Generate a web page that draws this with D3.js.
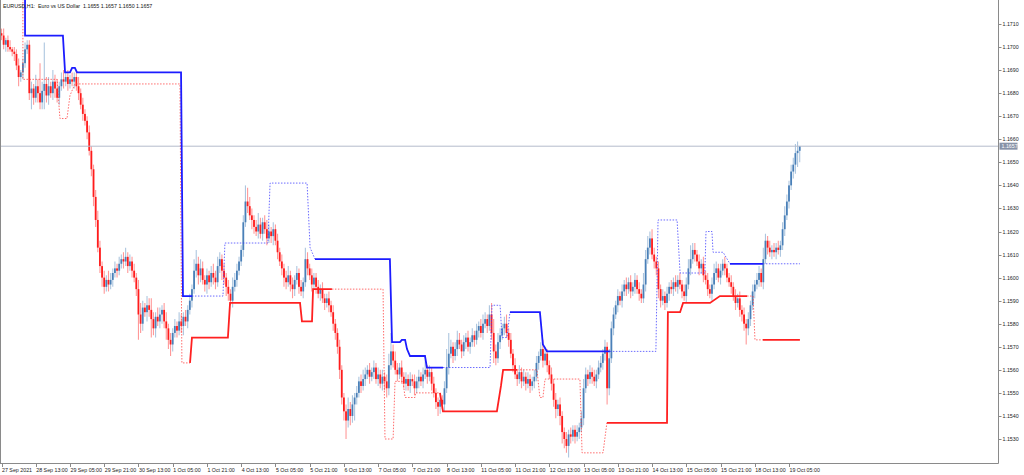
<!DOCTYPE html>
<html>
<head>
<meta charset="utf-8">
<script src="https://cdn.jsdelivr.net/npm/d3@7.9.0/dist/d3.min.js"></script>
<style>
  html, body { margin: 0; padding: 0; background: #fff; }
  svg { display: block; font-family: "Liberation Sans", Arial, sans-serif; }
</style>
</head>
<body>
<svg id="chart" width="1024" height="475"></svg>
<script>
// EURUSD H1 closes, in pips above 1.1500 (bar 0 = 27 Sep 21:00)
const firstOpen = 206;
const closes = [
  205,201,203,200,199,198,197,192,187,189,193,199,201,180,
  182,178,183,180,176,181,184,179,183,180,185,182,178,183,186,185,187,184,186,185,187,183,
  180,175,171,168,163,155,147,135,125,113,105,100,96,99,97,99,102,104,103,106,
  108,107,109,105,107,103,100,95,84,80,87,85,88,86,82,78,83,81,84,86,81,78,73,71,
  76,79,77,81,79,83,81,86,90,95,103,106,101,104,99,97,101,98,102,100,
  98,105,108,103,100,96,93,90,96,99,103,107,112,124,133,131,127,125,122,120,
  123,119,124,121,117,120,118,121,116,111,107,104,100,98,101,97,95,99,102,96,
  94,98,108,104,101,97,100,96,93,95,91,89,91,88,85,80,76,70,60,48,
  42,38,43,40,45,48,50,55,53,56,58,60,57,59,61,56,58,54,57,55,
  52,62,68,64,60,58,61,57,54,56,53,56,55,52,55,57,55,58,60,57,
  59,54,50,46,44,47,45,52,61,67,70,66,69,73,71,68,72,74,70,72,
  75,73,77,79,76,80,82,79,84,76,68,65,72,75,78,80,76,73,67,62,
  58,56,59,55,57,54,56,53,55,57,63,66,69,64,67,62,58,54,47,43,
  45,40,33,30,27,32,31,34,31,33,35,39,52,58,56,59,57,55,58,61,
  63,67,70,52,65,78,84,88,92,90,94,97,95,98,94,96,99,95,93,91,
  97,108,113,117,110,107,104,95,90,92,89,93,96,95,98,96,99,97,94,92,
  97,104,108,112,110,107,104,106,101,99,95,93,97,102,104,100,103,106,104,100,
  98,96,92,89,91,86,84,80,78,82,88,94,97,99,102,98,108,116,113,111,
  112,111,113,112,114,121,127,133,140,146,149,154,155,157
];
// upper / lower shadows in pips beyond the body
const wickUp = [
  2,3,1,2,3,1,2,2,3,1, 2,3,2,2,3,2,5,3,13,4,
  18,3,4,2,5,3,4,2,3,4, 2,3,2,3,2,3,4,2,3,2,
  2,3,2,2,3,4,3,2,3,2, 4,3,2,3,2,3,2,3,4,2,
  3,2,3,2,4,5,3,2,4,3, 5,3,2,4,3,2,3,4,2,3,
  2,3,2,4,3,2,3,2,3,2, 5,6,3,4,3,2,3,2,3,4,
  3,4,3,2,3,2,3,2,4,3, 3,2,2,3,7,6,4,3,2,3,
  5,3,2,3,4,3,2,3,2,3, 2,3,2,3,4,2,3,2,3,2,
  3,2,5,3,2,3,2,2,3,2, 3,2,2,3,2,3,2,2,3,2,
  2,3,5,3,4,2,3,2,3,4, 3,2,3,2,3,2,3,2,3,2,
  3,5,8,3,4,3,2,3,2,3, 2,3,2,3,2,3,2,3,4,2,
  3,2,3,2,2,3,2,3,8,9, 3,2,3,4,3,2,3,2,3,2,
  3,2,3,2,3,4,3,2,4,5, 6,3,4,3,2,3,4,2,3,2,
  3,2,3,2,3,2,3,2,2,3, 3,2,3,4,3,2,2,3,2,3,
  2,3,2,2,3,2,3,2,2,3, 2,3,4,3,2,3,2,3,2,3,
  3,2,3,2,4,3,3,2,3,2, 3,2,3,2,3,2,3,2,3,2,
  5,4,5,3,4,3,2,3,2,3, 2,3,2,3,2,3,2,3,2,3,
  3,4,6,3,3,2,3,2,3,2, 3,2,3,4,3,2,3,2,3,2,
  2,3,2,3,2,3,2,3,2,3, 2,3,2,3,3,2,5,3,2,3,
  2,3,2,3,2,3,4,3,2,3, 3,4,4,0
];
const wickDown = [
  2,2,3,2,1,2,3,2,4,2, 3,2,2,3,7,3,2,4,3,3,
  8,3,4,2,3,4,2,3,2,3, 2,3,2,2,3,2,3,2,3,2,
  3,2,3,4,3,2,3,4,3,2, 3,2,3,2,3,2,2,3,2,3,
  2,3,2,3,11,4,3,2,4,3, 8,3,4,2,3,4,3,5,4,5,
  3,2,3,2,3,4,2,3,2,3, 2,3,4,3,2,3,4,3,2,3,
  3,2,3,4,3,4,3,2,3,2, 3,2,2,3,2,3,2,4,3,2,
  3,2,3,2,3,2,3,4,2,3, 2,3,4,3,2,3,4,3,2,3,
  2,3,2,3,2,3,2,3,2,3, 2,3,2,3,2,3,3,3,4,3,
  4,8,3,4,3,7,3,2,3,2, 3,2,3,2,3,2,3,2,3,4,
  4,3,2,3,2,3,2,3,2,3, 2,3,2,3,2,3,2,3,2,3,
  2,3,2,3,4,3,2,3,2,3, 2,3,2,3,2,3,2,3,2,3,
  2,3,2,3,2,3,2,3,2,3, 5,3,2,3,2,3,2,3,2,3,
  2,3,2,3,2,3,2,3,2,3, 2,3,2,3,2,3,2,3,3,4,
  3,4,5,4,3,5,3,2,3,2, 3,2,3,2,3,2,3,2,3,2,
  2,3,3,7,3,2,3,2,3,2, 3,2,3,2,3,2,3,2,3,2,
  2,3,2,3,2,3,3,4,3,2, 3,2,3,2,3,2,3,2,3,2,
  3,2,3,2,3,2,3,2,3,2, 3,2,3,2,3,2,3,2,3,2,
  2,3,2,3,2,3,3,3,7,3, 3,2,3,2,3,2,3,2,3,2,
  3,2,3,2,3,2,3,2,3,2, 3,4,6,5
];

const timeLabels = [
  "27 Sep 2021","28 Sep 13:00","29 Sep 05:00","29 Sep 21:00","30 Sep 13:00","1 Oct 05:00",
  "1 Oct 21:00","4 Oct 13:00","5 Oct 05:00","5 Oct 21:00","6 Oct 13:00","7 Oct 05:00",
  "7 Oct 21:00","8 Oct 13:00","11 Oct 05:00","11 Oct 21:00","12 Oct 13:00","13 Oct 05:00",
  "13 Oct 21:00","14 Oct 13:00","15 Oct 05:00","15 Oct 21:00","18 Oct 13:00","19 Oct 05:00"
];
const barsPerLabel = 16;
const priceLabels = [1.1530,1.1540,1.1550,1.1560,1.1570,1.1580,1.1590,1.1600,1.1610,
  1.1620,1.1630,1.1640,1.1650,1.1660,1.1670,1.1680,1.1690,1.1700,1.1710];
const lastPrice = 1.1657;
const title = "EURUSD,H1:  Euro vs US Dollar  1.1655 1.1657 1.1650 1.1657";

// indicator step lines: [bar, price] vertices
const blueSolid = [
  [[11,1.1730],[11,1.1705],[28.7,1.1705],[29.7,1.1689],[32,1.1689],[33,1.1691],[34.3,1.1691],[35.3,1.1689],[83.9,1.1689],[84.8,1.1592],[89,1.1592]],
  [[146.5,1.1608],[181.5,1.1608],[182.5,1.1572],[186.2,1.1572],[187.1,1.1573],[188.6,1.1573],[189.5,1.1569],[190.9,1.1566],[197.9,1.1566],[198.8,1.1561],[206.3,1.1561]],
  [[237.6,1.1585],[251.6,1.1585],[253,1.1571],[254.9,1.1568],[284.3,1.1568]],
  [[340.4,1.1606],[355.8,1.1606]]
];
const blueDotted = [
  [[89,1.1592],[103.5,1.1592],[104.4,1.1615],[124.5,1.1615],[125.5,1.1641],[142.8,1.1641],[144.2,1.1613],[146.5,1.1608]],
  [[206.3,1.1561],[228.3,1.1561],[229.2,1.1588],[233,1.1588],[233.9,1.1574],[236.2,1.1574],[237.6,1.1585]],
  [[284.3,1.1568],[305.8,1.1568],[306.8,1.1625],[315.7,1.1625],[317.1,1.1602],[328.7,1.1602],[329.2,1.1620],[332,1.1620],[332.5,1.1611],[337.2,1.1611],[340.4,1.1606]],
  [[355.8,1.1606],[373.1,1.1606]]
];
const redSolid = [
  [[88.1,1.1563],[89,1.1574],[105.8,1.1574],[106.8,1.1589],[139.5,1.1589],[140.4,1.1581],[145.1,1.1581],[145.6,1.1595],[154.4,1.1595]],
  [[204.9,1.1550],[206.3,1.1542],[231.5,1.1542],[233.4,1.1553],[234.4,1.1560],[240.9,1.1560]],
  [[282.9,1.1537],[311,1.1537],[311.4,1.1585],[317.1,1.1585],[318.5,1.1589],[331.1,1.1589],[335.7,1.1592],[348.4,1.1592]],
  [[355.8,1.1573],[373.1,1.1573]]
];
const redDotted = [
  [[10,1.1730],[10,1.1686],[26,1.1686],[27.3,1.1669],[30.6,1.1669],[32,1.1679],[34.3,1.1684],[83.4,1.1684],[84.3,1.1563],[88.1,1.1563]],
  [[154.4,1.1595],[178.3,1.1595],[179.2,1.1530],[183,1.1530],[183.9,1.1555],[187.6,1.1555],[188.6,1.1548],[193.2,1.1548],[193.5,1.1550],[204.9,1.1550]],
  [[240.9,1.1560],[250.2,1.1560],[251.6,1.1548],[253,1.1548],[254,1.1556],[270.3,1.1556],[271.3,1.1524],[281.1,1.1524],[282.9,1.1537]],
  [[348.4,1.1592],[351.2,1.1592],[352.1,1.1573],[355.8,1.1573]]
];

const plotRight = 998.5, plotBottom = 463.5;
const svg = d3.select('#chart');
const x = d3.scaleLinear().domain([0, 373]).range([1.5, 799.7]);
const y = d3.scaleLinear().domain([1.1530, 1.1710]).range([439, 24]);
const pip = v => 1.15 + v / 10000;

let bars = closes.map((c, i) => {
  let o = i === 0 ? firstOpen : closes[i - 1];
  return {
    i, o: pip(o), c: pip(c),
    h: pip(Math.max(o, c) + wickUp[i]),
    l: pip(Math.min(o, c) - wickDown[i])
  };
});

svg.append('defs').append('clipPath').attr('id', 'plot')
  .append('rect').attr('x', 0).attr('y', 0).attr('width', plotRight).attr('height', plotBottom);

const plot = svg.append('g').attr('clip-path', 'url(#plot)');

function barColor(d) {
  if (d.c > d.o) return '#4a80b8';
  if (d.c < d.o) return '#ff1c1c';
  return '#555';
}

// candles
plot.append('g').selectAll('line').data(bars).join('line')
  .attr('x1', d => x(d.i)).attr('x2', d => x(d.i))
  .attr('y1', d => y(d.h)).attr('y2', d => y(d.l))
  .attr('stroke', barColor).attr('stroke-opacity', 0.45).attr('stroke-width', 1.1);

plot.append('g').selectAll('rect').data(bars).join('rect')
  .attr('x', d => x(d.i) - 0.9)
  .attr('width', 1.8)
  .attr('y', d => y(Math.max(d.o, d.c)))
  .attr('height', d => Math.max(1, Math.abs(y(d.o) - y(d.c))))
  .attr('fill', barColor);

// current price line
plot.append('line')
  .attr('x1', 0).attr('x2', plotRight)
  .attr('y1', y(lastPrice)).attr('y2', y(lastPrice))
  .attr('stroke', '#b4bccb').attr('stroke-width', 1);

// indicator lines
const line = d3.line().x(d => x(d[0])).y(d => y(d[1]));
function drawSteps(segs, color, width, dash, opacity) {
  plot.append('g').selectAll('path').data(segs).join('path')
    .attr('d', line)
    .attr('fill', 'none')
    .attr('stroke', color)
    .attr('stroke-width', width)
    .attr('stroke-dasharray', dash)
    .attr('stroke-opacity', opacity);
}
drawSteps(redDotted, '#ff3b3b', 1, '1.5,1.5', 0.75);
drawSteps(blueDotted, '#3b3bff', 1, '1.5,1.5', 0.75);
drawSteps(redSolid, '#ff2020', 1.8, null, 1);
drawSteps(blueSolid, '#1c1cff', 1.8, null, 1);

// frame
svg.append('line').attr('x1', 0.5).attr('x2', 0.5).attr('y1', 0).attr('y2', plotBottom)
  .attr('stroke', '#8a8a8a');
svg.append('line').attr('x1', plotRight).attr('x2', plotRight).attr('y1', 0).attr('y2', plotBottom)
  .attr('stroke', '#8a8a8a');
svg.append('line').attr('x1', 0).attr('x2', plotRight).attr('y1', plotBottom).attr('y2', plotBottom)
  .attr('stroke', '#8a8a8a');

// price axis
const fmt = d3.format('.4f');
const pAxis = svg.append('g');
pAxis.selectAll('line').data(priceLabels).join('line')
  .attr('x1', plotRight).attr('x2', plotRight + 3)
  .attr('y1', d => Math.round(y(d)) + 0.5).attr('y2', d => Math.round(y(d)) + 0.5)
  .attr('stroke', '#8a8a8a');
pAxis.selectAll('text').data(priceLabels).join('text')
  .attr('x', plotRight + 4).attr('y', d => y(d) + 2)
  .attr('font-size', 5.3).attr('fill', '#222')
  .text(fmt);

// last price tag
svg.append('rect')
  .attr('x', plotRight + 1).attr('y', y(lastPrice) - 3.5)
  .attr('width', 18).attr('height', 7)
  .attr('fill', '#8793a8');
svg.append('text')
  .attr('x', plotRight + 3).attr('y', y(lastPrice) + 2)
  .attr('font-size', 5.3).attr('fill', '#fff')
  .text(fmt(lastPrice));

// time axis
const tAxis = svg.append('g');
tAxis.selectAll('line').data(timeLabels).join('line')
  .attr('x1', (d, k) => Math.round(x(k * barsPerLabel)) + 0.5)
  .attr('x2', (d, k) => Math.round(x(k * barsPerLabel)) + 0.5)
  .attr('y1', plotBottom).attr('y2', plotBottom + 3.5)
  .attr('stroke', '#8a8a8a');
tAxis.selectAll('text').data(timeLabels).join('text')
  .attr('x', (d, k) => x(k * barsPerLabel) + 0.5)
  .attr('y', plotBottom + 8)
  .attr('font-size', 5.3).attr('fill', '#222')
  .text(d => d);

// title
svg.append('text')
  .attr('x', 3).attr('y', 7.5)
  .attr('font-size', 5.3).attr('fill', '#111')
  .attr('xml:space', 'preserve')
  .style('white-space', 'pre')
  .text(title);
</script>
</body>
</html>
